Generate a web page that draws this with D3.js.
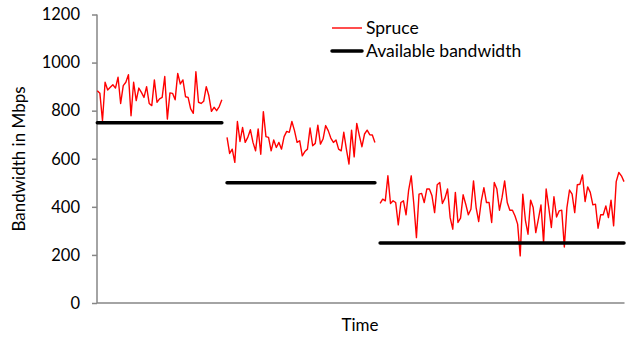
<!DOCTYPE html>
<html>
<head>
<meta charset="utf-8">
<script src="https://cdn.jsdelivr.net/npm/d3@7"></script>
<style>
  body { margin: 0; background: #fff; }
  svg text { font-family: Lato, "Open Sans", sans-serif; fill: #000; }
</style>
</head>
<body>
<div class="graph"></div>
<script>
// spruce measurements, one array per available-bandwidth phase
const spruceA = [883, 872, 758, 918, 886, 897, 908, 894, 939, 830, 904, 918, 950, 779, 918, 842, 894, 876, 855, 900,
  830, 821, 928, 835, 849, 855, 942, 765, 874, 872, 845, 955, 911, 928, 858, 855, 807, 789, 962, 835,
  830, 839, 900, 862, 797, 814, 800, 817, 845];
const spruceB = [689, 622, 640, 585, 755, 672, 730, 668, 689, 721, 668, 633, 724, 619, 796, 692, 689, 633, 678, 647,
  668, 640, 692, 714, 710, 755, 717, 668, 675, 612, 630, 640, 728, 654, 664, 740, 661, 682, 738, 717,
  686, 668, 678, 640, 633, 710, 640, 578, 719, 608, 747, 696, 650, 703, 719, 700, 699, 668];
const spruceC = [414, 432, 425, 529, 414, 425, 418, 325, 418, 425, 367, 470, 529, 411, 272, 453, 456, 418, 474, 474,
  446, 376, 492, 501, 414, 436, 474, 355, 307, 460, 335, 353, 450, 411, 367, 390, 508, 397, 339, 425,
  480, 418, 418, 335, 501, 474, 386, 439, 508, 418, 386, 386, 362, 328, 196, 453, 344, 286, 428, 397,
  293, 349, 408, 251, 474, 397, 314, 442, 358, 383, 386, 233, 397, 470, 453, 376, 492, 494, 533, 422,
  483, 460, 408, 411, 311, 367, 367, 404, 355, 428, 321, 505, 543, 529, 505];
const available = [750, 500, 250];
const yTicks = [0, 200, 400, 600, 800, 1000, 1200];
const seriesNames = ['Spruce', 'Available bandwidth'];

// join phases with one empty slot between them
const phases = [spruceA, spruceB, spruceC];
let spruce = [], avail = [];
phases.forEach((p, i) => {
  if (i > 0) { spruce.push(null); avail.push(null); }
  p.forEach(v => { spruce.push(v); avail.push(available[i]); });
});

const width = 627, height = 337;
const plot = {left: 97, right: 624, top: 14.5, bottom: 303};

const svg = d3.select('.graph').append('svg')
    .attr('width', width)
    .attr('height', height);

const scaleX = d3.scaleLinear()
    .domain([0, spruce.length - 1])
    .range([plot.left + 0.3, plot.right]);

const scaleY = d3.scaleLinear()
    .domain([0, 1200])
    .range([plot.bottom, plot.top]);

const yAxis = d3.axisLeft(scaleY)
    .tickValues(yTicks)
    .tickFormat(d3.format('d'))
    .tickSize(5)
    .tickPadding(12);

const gy = svg.append('g')
    .attr('class', 'y axis')
    .attr('transform', 'translate(' + plot.left + ',0)')
    .call(yAxis);
gy.select('.domain').attr('stroke', '#868686').attr('stroke-width', 1.5).attr('d', 'M0,' + plot.top + 'V' + plot.bottom);
gy.selectAll('.tick line').attr('stroke', '#868686').attr('stroke-width', 1.5);
gy.selectAll('.tick text').attr('font-size', 16.5).attr('fill', '#000');

// category axis: plain line, no labels
svg.append('line')
    .attr('x1', plot.left).attr('x2', plot.right + 0.5)
    .attr('y1', plot.bottom).attr('y2', plot.bottom)
    .attr('stroke', '#868686').attr('stroke-width', 1.5);

const line = d3.line()
    .defined(d => d != null)
    .x((d, i) => scaleX(i))
    .y(d => scaleY(d));

svg.append('path')
    .datum(spruce)
    .attr('fill', 'none')
    .attr('stroke', '#ff0000')
    .attr('stroke-width', 1.4)
    .attr('stroke-linejoin', 'round')
    .attr('d', line);

svg.append('path')
    .datum(avail)
    .attr('fill', 'none')
    .attr('stroke', '#000')
    .attr('stroke-width', 3.5)
    .attr('stroke-linecap', 'round')
    .attr('d', line);

// axis titles
svg.append('text')
    .attr('x', 360).attr('y', 331)
    .attr('text-anchor', 'middle')
    .attr('font-size', 17)
    .text('Time');

svg.append('text')
    .attr('transform', 'translate(25,159) rotate(-90)')
    .attr('text-anchor', 'middle')
    .attr('font-size', 17)
    .text('Bandwidth in Mbps');

// legend
const legend = svg.append('g').attr('transform', 'translate(332,28)');
const styles = [{stroke: '#ff0000', w: 1.4}, {stroke: '#000', w: 3.5}];
seriesNames.forEach((name, i) => {
  const g = legend.append('g').attr('transform', 'translate(0,' + (i * 23) + ')');
  g.append('line')
      .attr('x1', 0).attr('x2', 30)
      .attr('stroke', styles[i].stroke)
      .attr('stroke-width', styles[i].w)
      .attr('stroke-linecap', i ? 'round' : 'butt');
  g.append('text')
      .attr('x', 34).attr('dy', '0.35em')
      .attr('font-size', 17.5)
      .text(name);
});
</script>
</body>
</html>
